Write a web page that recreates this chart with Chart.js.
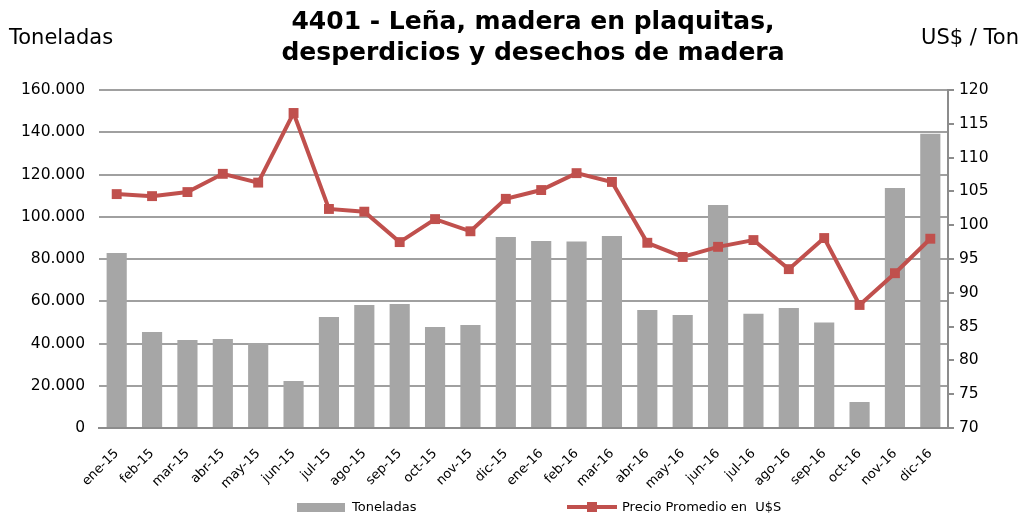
<!DOCTYPE html>
<html>
<head>
<meta charset="utf-8">
<script src="https://cdn.jsdelivr.net/npm/chart.js@4.4.0/dist/chart.umd.min.js"></script>
<style>
  html, body { margin: 0; padding: 0; background: #fff; }
  #wrap { width: 1025px; height: 516px; }
</style>
</head>
<body>
<div id="wrap"><canvas id="chart" width="1025" height="516"></canvas></div>
<script>
// data
const meses = ['ene-15', 'feb-15', 'mar-15', 'abr-15', 'may-15', 'jun-15', 'jul-15', 'ago-15',
  'sep-15', 'oct-15', 'nov-15', 'dic-15', 'ene-16', 'feb-16', 'mar-16', 'abr-16', 'may-16',
  'jun-16', 'jul-16', 'ago-16', 'sep-16', 'oct-16', 'nov-16', 'dic-16'];

const toneladas = [82800, 45400, 41700, 42100, 40200, 22200, 52500, 58200, 58700, 47800, 48800, 90400,
  88500, 88300, 90900, 55900, 53500, 105600, 54100, 56800, 50000, 12300, 113600, 139300];

const precio = [104.6, 104.3, 104.9, 107.6, 106.3, 116.6, 102.4, 102.0, 97.5, 100.9, 99.1, 103.9,
  105.2, 107.7, 106.4, 97.4, 95.3, 96.8, 97.8, 93.5, 98.1, 88.2, 92.9, 98.0];

const titulo = ['4401 - Leña, madera en plaquitas,', 'desperdicios y desechos de madera'];
const unidadIzq = 'Toneladas';
const unidadDer = 'US$ / Ton';

const GRIS = '#a6a6a6';
const ROJO = '#c0504d';
const FONT = "'DejaVu Sans', Verdana, sans-serif";

const miles = v => String(v).replace(/\B(?=(\d{3})+(?!\d))/g, '.');

// title, unit labels and legend drawn on the canvas
const textos = {
  id: 'textos',
  afterDraw(chart) {
    const ctx = chart.ctx;
    ctx.save();
    ctx.fillStyle = '#000';
    ctx.textBaseline = 'middle';

    ctx.font = 'bold 25px ' + FONT;
    ctx.textAlign = 'center';
    ctx.fillText(titulo[0], 533, 22);
    ctx.fillText(titulo[1], 533, 53);

    ctx.font = '21px ' + FONT;
    ctx.textAlign = 'left';
    ctx.fillText(unidadIzq, 9, 39);
    ctx.textAlign = 'right';
    ctx.fillText(unidadDer, 1019, 39);

    // legend
    const ds = chart.data.datasets;
    const ly = 507;
    ctx.font = '13px ' + FONT;
    ctx.textAlign = 'left';
    ctx.fillStyle = ds[0].backgroundColor;
    ctx.fillRect(297, ly - 4, 48, 9);
    ctx.fillStyle = '#000';
    ctx.fillText(ds[0].label, 352, ly + 1);

    ctx.strokeStyle = ds[1].borderColor;
    ctx.lineWidth = 4;
    ctx.beginPath();
    ctx.moveTo(567, ly);
    ctx.lineTo(617, ly);
    ctx.stroke();
    ctx.fillStyle = ds[1].borderColor;
    ctx.fillRect(587, ly - 5, 10, 10);
    ctx.fillStyle = '#000';
    ctx.fillText(ds[1].label, 622, ly + 1);
    ctx.restore();
  }
};

new Chart(document.getElementById('chart'), {
  type: 'bar',
  data: {
    labels: meses,
    datasets: [
      {
        type: 'bar',
        label: 'Toneladas',
        data: toneladas,
        backgroundColor: GRIS,
        yAxisID: 'y',
        categoryPercentage: 1,
        barPercentage: 0.57,
        order: 1
      },
      {
        type: 'line',
        label: 'Precio Promedio en  U$S',
        data: precio,
        borderColor: ROJO,
        backgroundColor: ROJO,
        borderWidth: 4,
        tension: 0,
        pointStyle: 'rect',
        pointRadius: 7,
        pointBorderWidth: 0,
        yAxisID: 'y1',
        order: 0
      }
    ]
  },
  plugins: [textos],
  options: {
    responsive: false,
    animation: false,
    layout: { padding: { top: 90, left: 0, right: 0, bottom: 0 } },
    plugins: {
      legend: { display: false },
      title: { display: false },
      tooltip: { enabled: false }
    },
    scales: {
      x: {
        grid: { display: false },
        border: { display: true, color: '#8c8c8c', width: 2 },
        ticks: {
          autoSkip: false,
          maxRotation: 45,
          minRotation: 45,
          color: '#000',
          padding: 10,
          font: { family: FONT, size: 13 }
        },
        afterFit: s => { s.height = 88; }
      },
      y: {
        position: 'left',
        min: 0,
        max: 160000,
        ticks: {
          stepSize: 20000,
          color: '#000',
          padding: 14,
          font: { family: FONT, size: 15.5 },
          callback: v => miles(v)
        },
        grid: { color: '#a0a0a0', lineWidth: 2, drawTicks: false },
        border: { display: false },
        afterFit: s => { s.width = 99; }
      },
      y1: {
        position: 'right',
        min: 70,
        max: 120,
        ticks: {
          stepSize: 5,
          color: '#000',
          padding: 5,
          font: { family: FONT, size: 15.5 }
        },
        grid: { drawOnChartArea: false, drawTicks: true, tickLength: 6, color: '#8c8c8c', lineWidth: 2 },
        border: { display: true, color: '#8c8c8c', width: 2 },
        afterFit: s => { s.width = 77; }
      }
    }
  }
});
</script>
</body>
</html>
